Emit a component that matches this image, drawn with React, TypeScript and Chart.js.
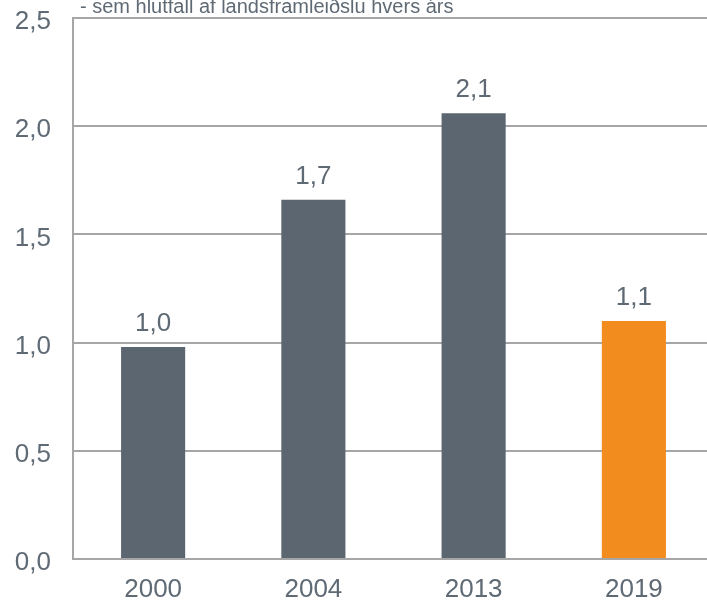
import React, { useEffect, useRef } from "react";
import { Chart, registerables } from "chart.js";

Chart.register(...registerables);

const categories = ["2000", "2004", "2013", "2019"];
const values = [0.98, 1.66, 2.06, 1.1];
const valueLabels = ["1,0", "1,7", "2,1", "1,1"];
const barColors = ["#5b6670", "#5b6670", "#5b6670", "#f28c1e"];
const subtitle = "- sem hlutfall af landsframleiðslu hvers árs";

const FONT = "'Liberation Sans', Arial, sans-serif";
const TEXT = "#5f6a74";
const GRID = "#a6a6a6";

const labelPlugin = {
  id: "labels",
  afterDatasetsDraw(chart: any) {
    const ctx = chart.ctx;
    const meta = chart.getDatasetMeta(0);
    ctx.save();
    ctx.font = `26px ${FONT}`;
    ctx.fillStyle = TEXT;
    ctx.textAlign = "center";
    ctx.textBaseline = "alphabetic";
    meta.data.forEach((bar: any, i: number) => {
      ctx.fillText(valueLabels[i], bar.x, bar.y - 16);
    });
    ctx.font = `20px ${FONT}`;
    ctx.textAlign = "left";
    ctx.fillText(subtitle, 80, 13);
    ctx.restore();
  },
};

export default function App() {
  const ref = useRef<HTMLCanvasElement | null>(null);
  useEffect(() => {
    if (!ref.current) return;
    const chart = new Chart(ref.current, {
      type: "bar",
      data: {
        labels: categories,
        datasets: [
          {
            data: values,
            backgroundColor: barColors,
            borderWidth: 0,
            barPercentage: 0.4,
            categoryPercentage: 1,
          },
        ],
      },
      options: {
        responsive: false,
        animation: false,
        layout: { padding: { top: 18, right: 0, left: 0, bottom: 0 } },
        plugins: { legend: { display: false }, tooltip: { enabled: false } },
        scales: {
          x: {
            grid: { display: false, drawTicks: false },
            border: { display: true, color: GRID, width: 2 },
            ticks: { color: TEXT, font: { size: 26, family: FONT }, padding: 15, maxRotation: 0 },
            afterFit: (s: any) => {
              s.height = 43;
            },
          },
          y: {
            min: 0,
            max: 2.5,
            grid: { color: GRID, lineWidth: 2, drawTicks: false },
            border: { display: true, color: GRID, width: 2 },
            ticks: {
              stepSize: 0.5,
              color: TEXT,
              font: { size: 26, family: FONT },
              padding: 22,
              labelOffset: 4,
              callback: (v: any) => Number(v).toFixed(1).replace(".", ","),
            },
            afterFit: (s: any) => {
              s.width = 73;
              s.paddingTop = 0;
              s.paddingBottom = 0;
            },
          },
        },
      },
      plugins: [labelPlugin],
    });
    return () => chart.destroy();
  }, []);
  return (
    <div
      style={{
        position: "fixed",
        top: 0,
        left: 0,
        width: 707,
        height: 602,
        overflow: "hidden",
        background: "#fff",
      }}
    >
      <canvas ref={ref} width={714} height={602} style={{ display: "block" }} />
    </div>
  );
}
